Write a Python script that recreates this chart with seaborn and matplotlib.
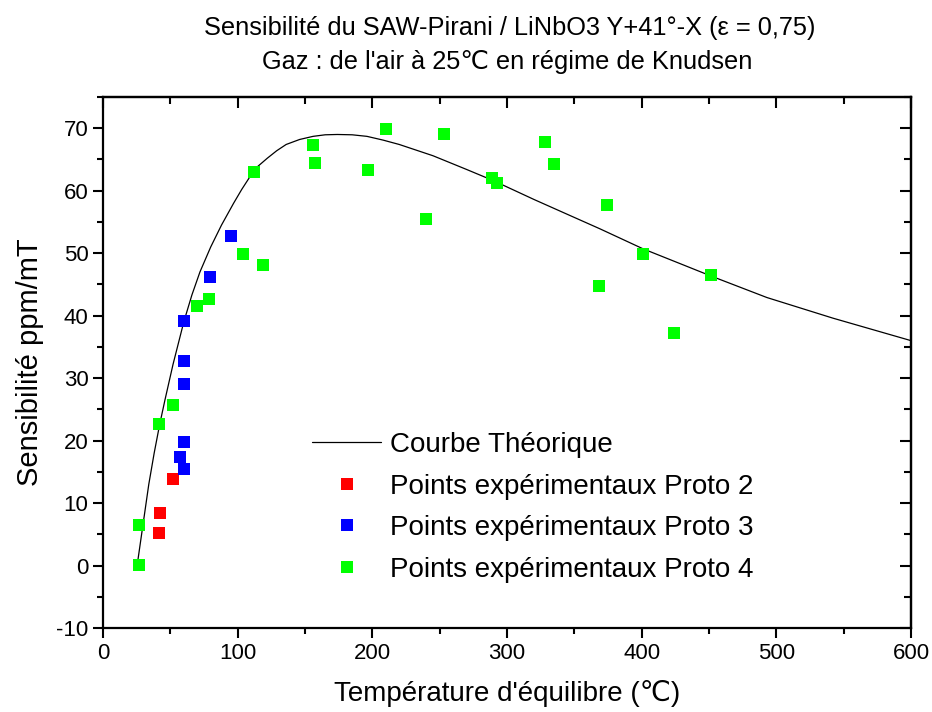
import numpy as np
import pandas as pd
import matplotlib
matplotlib.use('Agg')
import matplotlib.pyplot as plt
from matplotlib.ticker import MultipleLocator, NullFormatter
import seaborn as sns

# theoretical curve
courbe_x = [25.5, 26, 30, 34, 38, 42, 46, 52, 60, 66, 72, 80, 88, 97, 103, 109, 115, 122, 129, 136,
            146, 156, 165, 174, 185, 196, 208, 220, 245, 270, 290, 320, 345, 369, 401, 430, 452,
            493, 542, 600]
courbe_y = [0, 1, 7, 13, 18, 22.5, 26.5, 32.2, 39.0, 43.3, 47, 51, 54.5, 58, 60.2, 62.2, 63.9, 65.2,
            66.4, 67.4, 68.2, 68.7, 68.95, 69.0, 68.95, 68.7, 68.1, 67.4, 65.6, 63.4, 61.6, 58.6,
            56.2, 53.9, 50.7, 48.2, 46.3, 42.9, 39.6, 36.0]

# experimental points
proto2_x = [52, 42.3, 41.3]
proto2_y = [13.9, 8.4, 5.2]

proto3_x = [60, 60, 60, 60, 57.2, 60, 95.0, 79.2]
proto3_y = [39.1, 32.8, 29.1, 19.8, 17.4, 15.4, 52.7, 46.2]

proto4_x = [27, 26.7, 41.6, 52.2, 69.6, 78.9, 104.2, 118.8, 112.4, 156.2, 157.4, 197, 210.4,
            253, 239.8, 288.9, 292.6, 328, 334.7, 374.2, 368.3, 401.2, 451.7, 423.7]
proto4_y = [0.1, 6.5, 22.7, 25.75, 41.6, 42.7, 49.85, 48.1, 63.0, 67.3, 64.4, 63.3, 69.8,
            69.1, 55.4, 62.0, 61.2, 67.8, 64.2, 57.7, 44.7, 49.8, 46.5, 37.25]

labels = ['Points expérimentaux Proto 2', 'Points expérimentaux Proto 3', 'Points expérimentaux Proto 4']
couleurs = ['#ff0000', '#0000ff', '#00ff00']

df_courbe = pd.DataFrame({'T': courbe_x, 'S': courbe_y})
df_pts = pd.concat([
    pd.DataFrame({'T': proto2_x, 'S': proto2_y, 'Proto': labels[0]}),
    pd.DataFrame({'T': proto3_x, 'S': proto3_y, 'Proto': labels[1]}),
    pd.DataFrame({'T': proto4_x, 'S': proto4_y, 'Proto': labels[2]}),
])

sns.set_style('ticks')
plt.rcParams['font.family'] = ['Liberation Sans', 'DejaVu Sans']
plt.rcParams['text.color'] = 'black'
plt.rcParams['axes.labelcolor'] = 'black'
plt.rcParams['axes.unicode_minus'] = False

fig = plt.figure(figsize=(9.32, 7.12), dpi=100)
ax = fig.add_axes([103 / 932, 1 - 628 / 712, (911 - 103) / 932, (628 - 97) / 712])

sns.lineplot(data=df_courbe, x='T', y='S', sort=False, estimator=None, color='black',
             linewidth=0.9, label='Courbe Théorique', ax=ax)
sns.scatterplot(data=df_pts, x='T', y='S', hue='Proto', palette=couleurs, marker='s',
                s=75, linewidth=0, ax=ax, zorder=3)

ax.set_xlim(0, 600)
ax.set_ylim(-10, 75)
ax.xaxis.set_major_locator(MultipleLocator(100))
ax.xaxis.set_minor_locator(MultipleLocator(50))
ax.yaxis.set_major_locator(MultipleLocator(10))
ax.yaxis.set_minor_locator(MultipleLocator(5))
ax.tick_params(which='major', direction='out', length=7, width=1.5, labelsize=16,
               colors='black', labelcolor='black')
ax.tick_params(which='minor', direction='out', length=4, width=1.5, colors='black')
for sp in ax.spines.values():
    sp.set_visible(True)
    sp.set_linewidth(1.6)
    sp.set_color('black')

# top and right ticks point inward
top = ax.secondary_xaxis('top')
top.xaxis.set_major_locator(MultipleLocator(100))
top.xaxis.set_minor_locator(MultipleLocator(50))
top.xaxis.set_major_formatter(NullFormatter())
top.tick_params(which='major', direction='in', length=8, width=1.5, colors='black')
top.tick_params(which='minor', direction='in', length=5, width=1.5, colors='black')
right = ax.secondary_yaxis('right')
right.yaxis.set_major_locator(MultipleLocator(10))
right.yaxis.set_minor_locator(MultipleLocator(5))
right.yaxis.set_major_formatter(NullFormatter())
right.tick_params(which='major', direction='in', length=8, width=1.5, colors='black')
right.tick_params(which='minor', direction='in', length=5, width=1.5, colors='black')
for sec in (top, right):
    for sp in sec.spines.values():
        sp.set_linewidth(1.6)
        sp.set_color('black')

ax.set_xlabel("Température d'équilibre (℃)", fontsize=20, labelpad=12)
ax.set_ylabel('Sensibilité ppm/mT', fontsize=21, labelpad=9)
fig.text(0.547, 0.961, 'Sensibilité du SAW-Pirani / LiNbO3 Y+41°-X (ε = 0,75)',
         ha='center', va='center', fontsize=18.3)
fig.text(0.544, 0.913, "Gaz : de l'air à 25℃ en régime de Knudsen",
         ha='center', va='center', fontsize=18.3)

handles, labs = ax.get_legend_handles_labels()
ax.legend(handles, labs, loc='upper left', bbox_to_anchor=(312 / 932, 1 - 432 / 712),
          bbox_transform=fig.transFigure, frameon=False, fontsize=20, handlelength=2.5,
          handletextpad=0.3, labelspacing=0.56, borderpad=0, borderaxespad=0, markerscale=0.95)

fig.savefig('out.png', dpi=100)
